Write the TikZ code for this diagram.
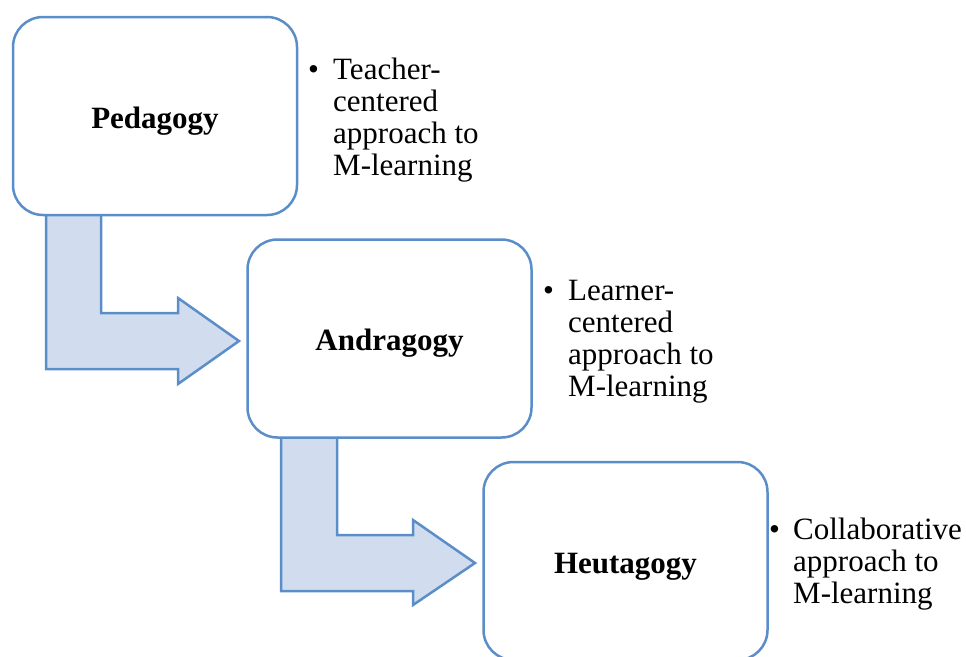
\documentclass[tikz,border=0pt]{standalone}
\usepackage{fontspec}
\setmainfont{Liberation Serif}
\definecolor{edgeblue}{RGB}{91,142,200}
\definecolor{arrowfill}{RGB}{209,221,239}
\newcommand\notefont{\fontsize{31}{32}\selectfont}
\newcommand\notelines[2][25pt]{\makebox[#1][l]{\textbullet}\parbox[t]{200pt}{\notefont #2}}
\begin{document}
\begin{tikzpicture}[x=1pt,y=-1pt,
  stage/.style={draw=edgeblue, line width=2.5pt, fill=white, rounded corners=30pt,
    minimum width=284pt, minimum height=198pt, inner sep=0pt,
    text height=24pt, text depth=0pt,
    font=\fontsize{31}{32}\selectfont\bfseries},
  flow/.style={draw=edgeblue, line width=2.5pt, fill=arrowfill, line join=miter},
  note/.style={anchor=base west, inner sep=0pt, font=\notefont}]
\useasboundingbox (0,0) rectangle (966,656);
\clip (0,0) rectangle (966,656);

% bent block arrows leading from one stage to the next
\draw[flow] (46,200) -- (101,200) -- (101,313) -- (178,313) -- (178,298)
  -- (239,341) -- (178,384) -- (178,369) -- (46,369) -- cycle;
\draw[flow] (281,420) -- (337,420) -- (337,535) -- (413,535) -- (413,520)
  -- (475,563) -- (413,605) -- (413,591) -- (281,591) -- cycle;

% the three stages
\node[stage] (ped) at (155,116) {Pedagogy};
\node[stage] (and) at (389.5,338.5) {Andragogy};
\node[stage] (heu) at (625.5,561) {Heutagogy};

% bullet notes beside each stage
\node[note] (pednote) at (308,79) {\notelines{Teacher-\\centered\\approach to\\M-learning}};
\node[note] (andnote) at (543,300) {\notelines{Learner-\\centered\\approach to\\M-learning}};
\node[note] (heunote) at (769,539) {\notelines[24pt]{Collaborative\\approach to\\M-learning}};
\end{tikzpicture}
\end{document}
